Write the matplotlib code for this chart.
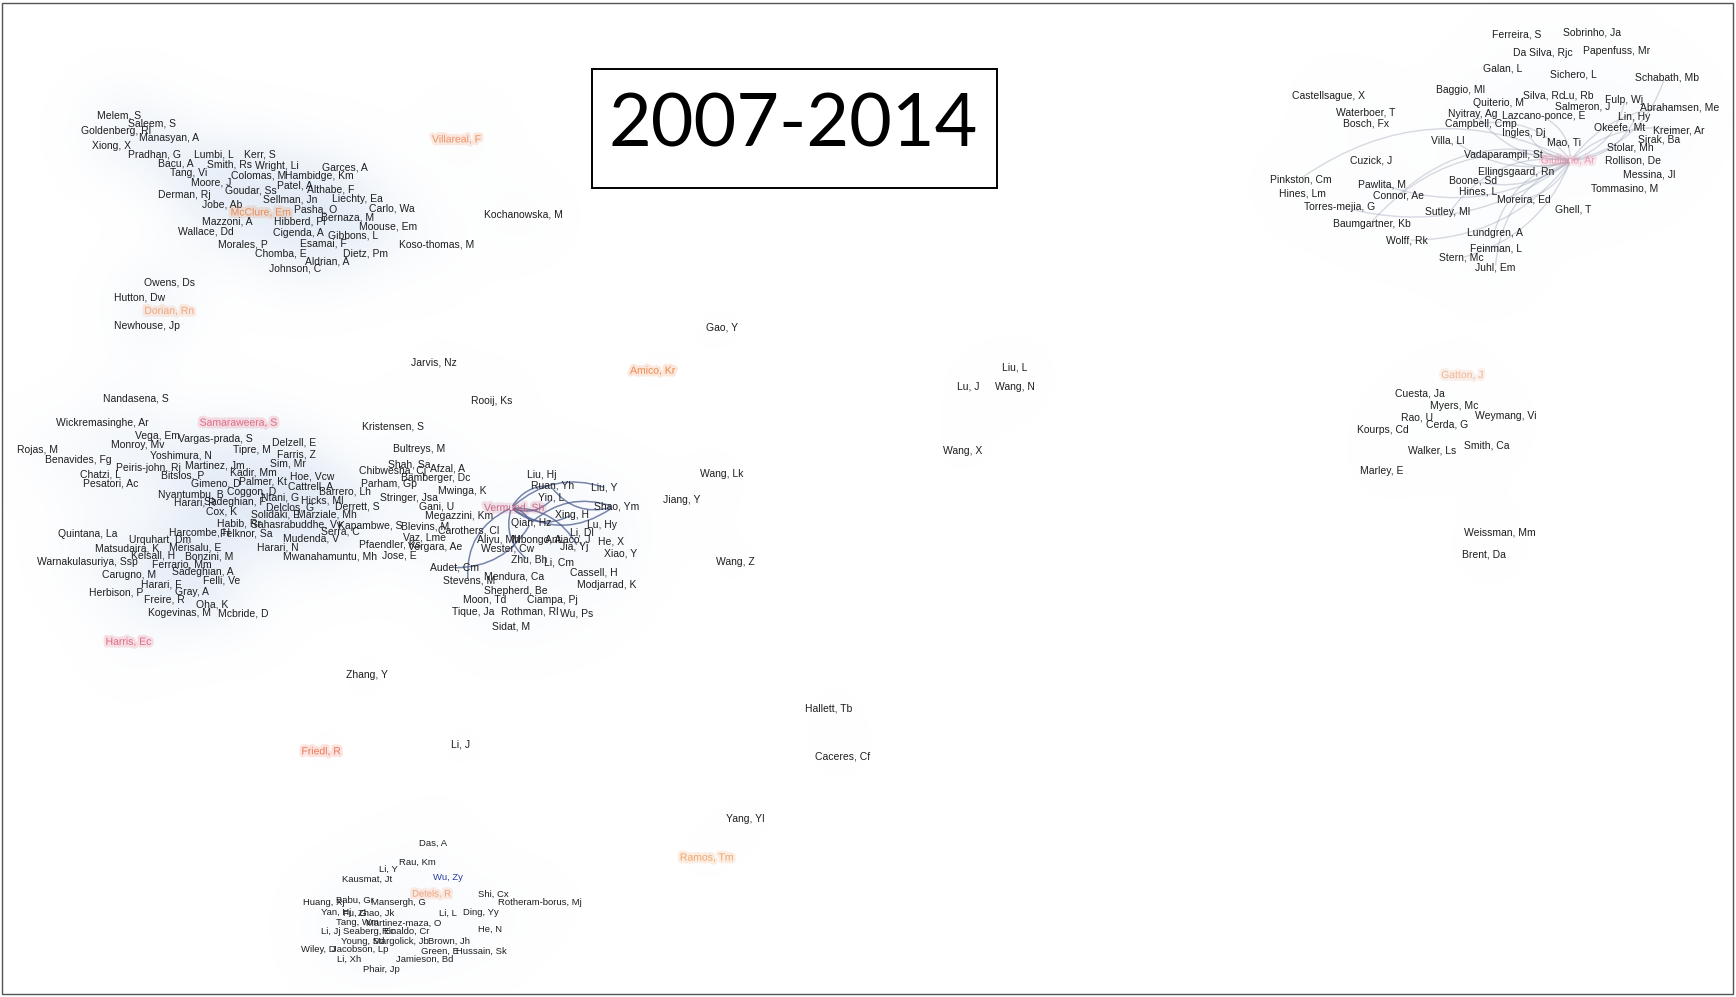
import numpy as np
import matplotlib
matplotlib.use("Agg")
import matplotlib.pyplot as plt
import matplotlib.patheffects as pe
from matplotlib.patches import Rectangle, FancyArrowPatch

# layout space of the co-authorship map (x right, y down)
W, H = 1568, 901
PERIOD = "2007-2014"

# ---- author labels per component: (name, x of label start, y) ----
GLOBAL_NET = [
    ("Melem, S", 87, 104), ("Saleem, S", 115, 112), ("Goldenberg, Rl", 73, 118),
    ("Manasyan, A", 125, 125), ("Xiong, X", 83, 132), ("Pradhan, G", 115, 140),
    ("Lumbi, L", 175, 140), ("Kerr, S", 220, 140), ("Bacu, A", 142, 148),
    ("Smith, Rs", 187, 149), ("Wright, Li", 230, 150), ("Garces, A", 291, 151),
    ("Tang, Vi", 153, 156), ("Colomas, M", 208, 159), ("Hambidge, Km", 257, 159),
    ("Moore, J", 172, 165), ("Patel, A", 250, 168), ("Althabe, F", 277, 171),
    ("Goudar, Ss", 203, 172), ("Derman, Rj", 142, 176), ("Sellman, Jn", 237, 180),
    ("Liechty, Ea", 300, 180), ("Jobe, Ab", 182, 185), ("McClure, Em", 208, 192),
    ("Pasha, O", 265, 189), ("Carlo, Wa", 333, 188), ("Mazzoni, A", 182, 200),
    ("Hibberd, Pl", 247, 200), ("Bernaza, M", 290, 197), ("Moouse, Em", 324, 205),
    ("Wallace, Dd", 160, 209), ("Cigenda, A", 246, 211), ("Gibbons, L", 296, 213),
    ("Koso-thomas, M", 360, 221), ("Morales, P", 197, 221), ("Esamai, F", 271, 220),
    ("Chomba, E", 230, 229), ("Dietz, Pm", 310, 229), ("Aldrian, A", 275, 236),
    ("Johnson, C", 243, 243), ("Owens, Ds", 130, 255), ("Hutton, Dw", 103, 269),
    ("Dorian, Rn", 130, 281), ("Newhouse, Jp", 103, 295), ("Villareal, F", 390, 126),
    ("Kochanowska, M", 437, 194),
]

CUPID = [
    ("Nandasena, S", 93, 360), ("Wickremasinghe, Ar", 50, 382), ("Samaraweera, S", 180, 382),
    ("Vega, Em", 122, 394), ("Vargas-prada, S", 160, 397), ("Monroy, Mv", 100, 402),
    ("Delzell, E", 245, 400), ("Rojas, M", 15, 407), ("Yoshimura, N", 135, 412),
    ("Tipre, M", 210, 407), ("Farris, Z", 250, 411), ("Benavides, Fg", 40, 416),
    ("Peiris-john, Rj", 104, 423), ("Martinez, Jm", 167, 421), ("Sim, Mr", 244, 419),
    ("Chatzi, L", 72, 429), ("Bitsios, P", 145, 430), ("Kadir, Mm", 207, 427),
    ("Pesatori, Ac", 75, 437), ("Gimeno, D", 172, 437), ("Palmer, Kt", 216, 435),
    ("Hoe, Vcw", 262, 431), ("Cattrell, A", 260, 440), ("Barrero, Lh", 288, 444),
    ("Nyantumbu, B", 142, 447), ("Coggon, D", 205, 445), ("Ntani, G", 235, 450),
    ("Harari, R", 157, 454), ("Sadeghian, F", 184, 454), ("Hicks, Ml", 272, 452),
    ("Delclos, G", 240, 459), ("Derrett, S", 302, 458), ("Cox, K", 186, 462),
    ("Solidaki, E", 226, 465), ("Marziale, Mh", 268, 465), ("Habib, Rr", 196, 473),
    ("Sahasrabuddhe, Vv", 226, 474), ("Quintana, La", 52, 483), ("Harcombe, H", 152, 481),
    ("Felknor, Sa", 198, 482), ("Urquhart, Dm", 116, 488), ("Mudenda, V", 255, 487),
    ("Serra, C", 290, 480), ("Matsudaira, K", 85, 496), ("Merisalu, E", 152, 495),
    ("Harari, N", 232, 495), ("Kelsall, H", 118, 502), ("Bonzini, M", 167, 503),
    ("Mwanahamuntu, Mh", 255, 503), ("Warnakulasuriya, Ssp", 33, 508), ("Ferrario, Mm", 137, 510),
    ("Carugno, M", 92, 520), ("Sadeghian, A", 155, 517), ("Felli, Ve", 183, 525),
    ("Harari, F", 127, 528), ("Herbison, P", 80, 535), ("Gray, A", 158, 535),
    ("Freire, R", 130, 542), ("Oha, K", 177, 546), ("Kogevinas, M", 133, 554),
    ("Mcbride, D", 197, 554), ("Harris, Ec", 95, 580),
]

VANDERBILT = [
    ("Rooij, Ks", 425, 362), ("Kristensen, S", 327, 385), ("Bultreys, M", 355, 406),
    ("Shah, Sa", 350, 420), ("Chibwesha, Cj", 324, 426), ("Afzal, A", 388, 423),
    ("Bamberger, Dc", 362, 432), ("Parham, Gp", 326, 437), ("Mwinga, K", 395, 444),
    ("Stringer, Jsa", 343, 450), ("Gani, U", 378, 458), ("Megazzini, Km", 384, 466),
    ("Kapambwe, S", 305, 475), ("Blevins, M", 362, 476), ("Carothers, Cl", 395, 479),
    ("Vaz, Lme", 364, 486), ("Pfaendler, Ks", 324, 492), ("Vergara, Ae", 368, 494),
    ("Jose, E", 345, 502), ("Audet, Cm", 388, 513), ("Stevens, M", 400, 525),
    ("Mendura, Ca", 437, 521), ("Shepherd, Be", 437, 534), ("Moon, Td", 418, 542),
    ("Ciampa, Pj", 476, 542), ("Tique, Ja", 408, 553), ("Rothman, Rl", 452, 553),
    ("Wu, Ps", 506, 554), ("Sidat, M", 444, 566), ("Aliyu, Mh", 431, 488),
    ("Mbongo, A", 462, 488), ("Wester, Cw", 434, 496), ("Zhu, Bh", 461, 506),
    ("Li, Cm", 491, 508), ("Vermund, Sh", 437, 459), ("Liu, Hj", 476, 429),
    ("Ruan, Yh", 479, 439), ("Liu, Y", 534, 441), ("Yin, L", 486, 450),
    ("Shao, Ym", 536, 458), ("Xing, H", 501, 465), ("Qian, Hz", 461, 473),
    ("Lu, Hy", 530, 474), ("Li, Dl", 515, 481), ("Antiaco, J", 492, 488),
    ("He, X", 540, 489), ("Jia, Yj", 506, 494), ("Xiao, Y", 545, 500),
    ("Cassell, H", 515, 517), ("Modjarrad, K", 521, 529),
]

SCATTERED = [
    ("Jarvis, Nz", 371, 328), ("Amico, Kr", 569, 335), ("Gao, Y", 638, 296),
    ("Liu, L", 905, 332), ("Lu, J", 864, 349), ("Wang, N", 899, 350),
    ("Wang, X", 852, 408), ("Wang, Lk", 632, 428), ("Jiang, Y", 599, 452),
    ("Wang, Z", 647, 508), ("Zhang, Y", 312, 610), ("Friedl, R", 272, 679),
    ("Li, J", 407, 673), ("Hallett, Tb", 727, 640), ("Caceres, Cf", 736, 684),
    ("Yang, Yl", 656, 740), ("Ramos, Tm", 614, 775),
]

MACS = [
    ("Das, A", 378, 762), ("Rau, Km", 360, 779), ("Li, Y", 342, 786),
    ("Kausmat, Jt", 309, 795), ("Wu, Zy", 391, 793), ("Detels, R", 372, 808),
    ("Shi, Cx", 432, 808), ("Huang, Xj", 273, 816), ("Babu, Gr", 303, 814),
    ("Mansergh, G", 335, 816), ("Rotheram-borus, Mj", 450, 816), ("Yan, Hj", 290, 825),
    ("Fu, G", 310, 825), ("Zhao, Jk", 323, 825), ("Li, L", 396, 825),
    ("Ding, Yy", 418, 825), ("Tang, Wm", 303, 834), ("Martinez-maza, O", 330, 834),
    ("He, N", 432, 840), ("Li, Jj", 290, 842), ("Seaberg, Ec", 310, 842),
    ("Rinaldo, Cr", 345, 842), ("Young, Sd", 308, 851), ("Margolick, Jb", 337, 851),
    ("Brown, Jh", 386, 851), ("Wiley, D", 272, 858), ("Jacobson, Lp", 300, 858),
    ("Green, E", 380, 860), ("Hussain, Sk", 412, 860), ("Li, Xh", 304, 867),
    ("Jamieson, Bd", 357, 867), ("Phair, Jp", 328, 876),
]

HIM_STUDY = [
    ("Ferreira, S", 1348, 31), ("Sobrinho, Ja", 1412, 29), ("Da Silva, Rjc", 1367, 48),
    ("Papenfuss, Mr", 1430, 46), ("Galan, L", 1340, 62), ("Sichero, L", 1400, 67),
    ("Schabath, Mb", 1477, 70), ("Castellsague, X", 1167, 87), ("Baggio, Ml", 1297, 81),
    ("Silva, Rc", 1376, 86), ("Lu, Rb", 1412, 86), ("Quiterio, M", 1331, 93),
    ("Fulp, Wj", 1450, 90), ("Salmeron, J", 1405, 96), ("Abrahamsen, Me", 1482, 97),
    ("Waterboer, T", 1207, 102), ("Nyitray, Ag", 1308, 103), ("Lazcano-ponce, E", 1357, 105),
    ("Lin, Hy", 1462, 106), ("Bosch, Fx", 1213, 112), ("Campbell, Cmp", 1305, 112),
    ("Okeefe, Mt", 1440, 115), ("Kreimer, Ar", 1493, 118), ("Ingles, Dj", 1357, 120),
    ("Sirak, Ba", 1480, 126), ("Villa, Ll", 1293, 127), ("Mao, Ti", 1398, 129),
    ("Stolar, Mh", 1452, 133), ("Vadaparampil, St", 1323, 140), ("Giuliano, Ar", 1392, 145),
    ("Rollison, De", 1450, 145), ("Cuzick, J", 1220, 145), ("Ellingsgaard, Rn", 1335, 155),
    ("Pinkston, Cm", 1147, 162), ("Pawlita, M", 1227, 167), ("Boone, Sd", 1309, 163),
    ("Messina, Jl", 1466, 158), ("Hines, Lm", 1155, 175), ("Connor, Ae", 1240, 177),
    ("Hines, L", 1318, 173), ("Tommasino, M", 1437, 170), ("Moreira, Ed", 1352, 180),
    ("Torres-mejia, G", 1178, 187), ("Sutley, Ml", 1287, 192), ("Ghell, T", 1405, 189),
    ("Baumgartner, Kb", 1204, 202), ("Lundgren, A", 1325, 211), ("Wolff, Rk", 1252, 217),
    ("Feinman, L", 1328, 225), ("Stern, Mc", 1300, 233), ("Juhl, Em", 1333, 242),
]

LAC_GROUP = [
    ("Gatton, J", 1302, 339), ("Cuesta, Ja", 1260, 356), ("Myers, Mc", 1292, 367),
    ("Rao, U", 1266, 377), ("Weymang, Vi", 1333, 376), ("Cerda, G", 1288, 384),
    ("Kourps, Cd", 1226, 389), ("Walker, Ls", 1272, 407), ("Smith, Ca", 1323, 403),
    ("Marley, E", 1229, 426), ("Weissman, Mm", 1323, 481), ("Brent, Da", 1321, 501),
]

# component, strength of its background halo, label size
COMPONENTS = [(GLOBAL_NET, 0.9, 7.5), (CUPID, 1.0, 7.5), (VANDERBILT, 0.35, 7.5),
              (SCATTERED, 0.04, 7.5), (MACS, 0.3, 6.8), (HIM_STUDY, 0.2, 7.5),
              (LAC_GROUP, 0.08, 7.5)]

# highly connected authors, drawn in colour
HUB_COLORS = {
    "McClure, Em": "#e9874a", "Dorian, Rn": "#f0a070", "Villareal, F": "#ef8a5a",
    "Samaraweera, S": "#df5d78", "Harris, Ec": "#df5d78", "Vermund, Sh": "#c2607e",
    "Amico, Kr": "#ef7f3e", "Friedl, R": "#ef6d4f", "Ramos, Tm": "#efa060",
    "Detels, R": "#ef9870", "Giuliano, Ar": "#e890a8", "Gatton, J": "#efb090",
}
OTHER_COLORS = {"Wu, Zy": "#2b3f9e"}

VERMUND_EDGES = [
    ("Vermund, Sh", "Liu, Y"), ("Vermund, Sh", "Shao, Ym"), ("Vermund, Sh", "Ruan, Yh"),
    ("Vermund, Sh", "Yin, L"), ("Qian, Hz", "Shao, Ym"), ("Ruan, Yh", "Shao, Ym"),
    ("Vermund, Sh", "Qian, Hz"), ("Vermund, Sh", "Stevens, M"), ("Qian, Hz", "Audet, Cm"),
    ("Vermund, Sh", "Zhu, Bh"), ("Vermund, Sh", "Jia, Yj"), ("Vermund, Sh", "Xing, H"),
]
HIM_EDGES = [("Giuliano, Ar", n) for n in [
    "Villa, Ll", "Campbell, Cmp", "Nyitray, Ag", "Schabath, Mb", "Abrahamsen, Me",
    "Lin, Hy", "Kreimer, Ar", "Fulp, Wj", "Torres-mejia, G", "Baumgartner, Kb",
    "Wolff, Rk", "Juhl, Em", "Stern, Mc", "Sutley, Ml", "Boone, Sd", "Lundgren, A",
    "Pawlita, M", "Connor, Ae", "Ingles, Dj", "Lazcano-ponce, E", "Vadaparampil, St",
    "Pinkston, Cm", "Moreira, Ed"]]

CHAR_W = 4.5  # approximate label advance per character, layout units


def centre(name, x, y):
    return x + CHAR_W * len(name) / 2, y


nodes = {}
for comp, _, _ in COMPONENTS:
    for name, x, y in comp:
        nodes[name] = centre(name, x, y)

fig = plt.figure(figsize=(17.36, 9.97), dpi=100)
ax = fig.add_axes([0, 0, 1, 1])
ax.set_xlim(0, W)
ax.set_ylim(H, 0)
ax.axis("off")

# soft halo under each component, from the label positions
gx, gy = np.meshgrid(np.arange(0, W, 2.0), np.arange(0, H, 2.0))
haze = np.zeros_like(gx)
sigma = 28.0
for comp, strength, _ in COMPONENTS:
    d = np.zeros_like(gx)
    for name, x, y in comp:
        cx, cy = centre(name, x, y)
        d += np.exp(-((gx - cx) ** 2 + (gy - cy) ** 2) / (2 * sigma ** 2))
    haze += strength * d / d.max()
rgba = np.zeros(gx.shape + (4,))
rgba[..., 0], rgba[..., 1], rgba[..., 2] = 0.80, 0.86, 0.94
rgba[..., 3] = np.clip(haze, 0, 1) ** 1.2 * 0.6
ax.imshow(rgba, extent=(0, W, H, 0), interpolation="bilinear", zorder=0)

# co-authorship ties
for i, (a, b) in enumerate(VERMUND_EDGES):
    ax.add_patch(FancyArrowPatch(nodes[a], nodes[b], arrowstyle="-",
                                 connectionstyle=f"arc3,rad={0.35 if i % 2 else -0.3}",
                                 color="#4b5c90", lw=1.1, alpha=0.75, zorder=1))
for i, (a, b) in enumerate(HIM_EDGES):
    ax.add_patch(FancyArrowPatch(nodes[a], nodes[b], arrowstyle="-",
                                 connectionstyle=f"arc3,rad={0.3 if i % 2 else -0.25}",
                                 color="#9aa3b6", lw=1.0, alpha=0.4, zorder=1))

# author labels
for comp, _, size in COMPONENTS:
    for name, x, y in comp:
        if name in HUB_COLORS:
            col = HUB_COLORS[name]
            ax.text(x, y, name, fontsize=size, family="Liberation Sans", color=col,
                    alpha=0.85, ha="left", va="center", zorder=3,
                    path_effects=[pe.withStroke(linewidth=4, foreground=col, alpha=0.18)])
        else:
            ax.text(x, y, name, fontsize=size, family="Liberation Sans",
                    color=OTHER_COLORS.get(name, "#1e1e1e"),
                    ha="left", va="center", zorder=3)

# period box
ax.add_patch(Rectangle((535, 62), 366, 108, fill=True, facecolor="white",
                       edgecolor="black", lw=1.4, zorder=4))
ax.text(716, 114, PERIOD, fontsize=53, family="Lato", color="black",
        ha="center", va="center", zorder=5)

# outer frame
ax.add_patch(Rectangle((1, 3), 1565, 895, fill=False, edgecolor="#555555", lw=1.0, zorder=5))

fig.savefig("out.png", dpi=100)
